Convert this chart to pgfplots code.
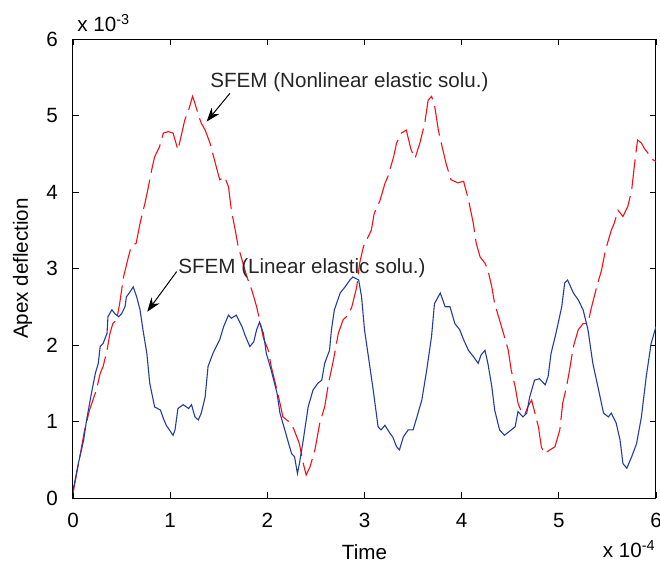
\documentclass[border=0pt]{standalone}
\usepackage{pgfplots}
\pgfplotsset{compat=1.18}
\usepackage{fontspec}
\setmainfont{Liberation Sans}
\usetikzlibrary{arrows.meta}
\definecolor{myblue}{RGB}{35,60,160}
\definecolor{myred}{RGB}{245,15,25}
\begin{document}
\fontsize{10.3}{12}\selectfont
\begin{tikzpicture}
\path[use as bounding box] (-36.5pt,-33pt) rectangle (293.5pt,249pt);
\begin{axis}[
  at={(0,0)}, anchor=south west,
  scale only axis, width=291.5pt, height=229.5pt,
  xmin=0, xmax=6, ymin=0, ymax=6,
  xtick={0,1,2,3,4,5,6}, ytick={0,1,2,3,4,5,6},
  tick align=inside, major tick length=3pt,
  tick style={black, line width=0.4pt},
  axis line style={black, line width=0.5pt},
  /pgf/number format/assume math mode=true,
  ticklabel style={font=\fontsize{10.3}{12}\selectfont},
  xticklabel style={yshift=-4pt},
  yticklabel style={xshift=-4pt},
  label style={font=\fontsize{10.3}{12}\selectfont},
  xlabel={Time}, ylabel={Apex deflection},
  xlabel style={yshift=-1.5pt},
  ylabel style={yshift=0pt},
  clip=true,
]
\addplot[myred, line width=0.55pt, dash pattern=on 15pt off 3.5pt] coordinates {
(0,0.06)(0.07,0.54)(0.12,0.89)(0.17,1.15)(0.24,1.41)(0.28,1.63)(0.31,1.72)(0.35,1.93)(0.38,2.15)(0.41,2.28)(0.45,2.33)(0.48,2.54)(0.52,2.89)(0.57,3.15)(0.60,3.29)(0.65,3.33)(0.69,3.59)(0.74,3.85)(0.77,4.03)(0.81,4.29)(0.84,4.46)(0.89,4.59)(0.93,4.77)(0.98,4.79)(1.03,4.77)(1.08,4.55)(1.12,4.77)(1.15,4.94)(1.19,5.07)(1.23,5.25)(1.25,5.18)(1.29,5.01)(1.32,4.90)(1.36,4.81)(1.41,4.64)(1.46,4.40)(1.51,4.16)(1.56,4.20)(1.60,4.07)(1.63,3.76)(1.67,3.50)(1.70,3.29)(1.74,3.11)(1.79,2.89)(1.84,2.72)(1.89,2.50)(1.92,2.33)(1.96,2.09)(2.01,1.93)(2.04,1.72)(2.10,1.41)(2.13,1.24)(2.16,1.06)(2.22,1.00)(2.27,0.91)(2.33,0.71)(2.37,0.45)(2.40,0.30)(2.44,0.41)(2.49,0.63)(2.54,0.98)(2.59,1.19)(2.63,1.50)(2.68,1.80)(2.73,2.15)(2.78,2.33)(2.83,2.39)(2.87,2.50)(2.92,2.76)(2.95,3.07)(2.99,3.29)(3.04,3.42)(3.07,3.50)(3.10,3.72)(3.16,3.89)(3.21,4.11)(3.24,4.20)(3.30,4.46)(3.33,4.64)(3.38,4.77)(3.43,4.81)(3.48,4.55)(3.52,4.44)(3.57,4.64)(3.62,4.90)(3.655,5.20)(3.69,5.25)(3.72,5.14)(3.76,4.81)(3.79,4.64)(3.84,4.37)(3.89,4.16)(3.96,4.12)(4.02,4.14)(4.07,3.90)(4.12,3.59)(4.15,3.33)(4.19,3.15)(4.24,3.07)(4.27,2.98)(4.31,2.76)(4.34,2.54)(4.38,2.37)(4.41,2.24)(4.44,2.11)(4.48,1.93)(4.51,1.67)(4.55,1.46)(4.58,1.24)(4.62,1.11)(4.65,1.09)(4.68,1.19)(4.72,1.28)(4.75,1.13)(4.79,0.93)(4.82,0.67)(4.85,0.58)(4.91,0.63)(4.96,0.67)(5.01,0.89)(5.04,1.24)(5.08,1.46)(5.11,1.67)(5.15,1.98)(5.20,2.20)(5.25,2.28)(5.30,2.28)(5.33,2.46)(5.39,2.76)(5.44,2.98)(5.48,3.24)(5.54,3.50)(5.57,3.59)(5.61,3.76)(5.66,3.68)(5.71,3.81)(5.75,4.03)(5.78,4.37)(5.81,4.68)(5.85,4.64)(5.88,4.57)(5.97,4.42)(6.00,4.40)
};
\addplot[myblue, line width=0.55pt] coordinates {
(0,0.10)(0.055,0.45)(0.11,0.76)(0.14,1.02)(0.19,1.37)(0.23,1.63)(0.26,1.76)(0.28,1.98)(0.31,2.02)(0.35,2.15)(0.36,2.37)(0.40,2.46)(0.43,2.41)(0.47,2.37)(0.50,2.41)(0.535,2.50)(0.55,2.63)(0.59,2.70)(0.62,2.76)(0.655,2.63)(0.69,2.46)(0.72,2.20)(0.76,1.89)(0.79,1.50)(0.84,1.19)(0.90,1.15)(0.93,1.04)(0.96,0.95)(1.03,0.82)(1.05,0.89)(1.08,1.17)(1.135,1.22)(1.19,1.17)(1.22,1.22)(1.255,1.06)(1.29,1.02)(1.32,1.11)(1.36,1.32)(1.39,1.72)(1.44,1.89)(1.51,2.07)(1.55,2.24)(1.60,2.39)(1.63,2.35)(1.68,2.39)(1.74,2.24)(1.77,2.13)(1.82,1.98)(1.86,2.04)(1.89,2.20)(1.92,2.30)(1.96,2.15)(1.99,1.89)(2.04,1.67)(2.10,1.37)(2.13,1.11)(2.18,0.89)(2.22,0.71)(2.25,0.58)(2.28,0.54)(2.31,0.32)(2.33,0.45)(2.37,0.76)(2.42,1.19)(2.47,1.41)(2.52,1.50)(2.56,1.54)(2.59,1.76)(2.64,1.93)(2.66,2.20)(2.69,2.46)(2.75,2.68)(2.80,2.76)(2.85,2.85)(2.88,2.89)(2.94,2.85)(2.97,2.63)(3.00,2.20)(3.04,1.85)(3.09,1.41)(3.14,0.93)(3.17,0.89)(3.21,0.95)(3.26,0.85)(3.29,0.80)(3.33,0.67)(3.36,0.63)(3.40,0.80)(3.45,0.89)(3.50,0.89)(3.54,1.06)(3.59,1.28)(3.64,1.67)(3.69,2.11)(3.72,2.54)(3.78,2.68)(3.83,2.50)(3.88,2.50)(3.93,2.28)(3.98,2.20)(4.02,2.07)(4.07,1.93)(4.12,1.85)(4.17,1.76)(4.20,1.87)(4.24,1.93)(4.27,1.76)(4.31,1.46)(4.34,1.15)(4.39,0.89)(4.44,0.82)(4.49,0.87)(4.55,0.93)(4.58,1.13)(4.63,1.06)(4.67,1.11)(4.70,1.32)(4.75,1.54)(4.80,1.56)(4.86,1.48)(4.89,1.59)(4.92,1.89)(4.97,2.15)(5.03,2.50)(5.06,2.81)(5.09,2.85)(5.15,2.68)(5.20,2.59)(5.25,2.46)(5.30,2.20)(5.35,1.76)(5.41,1.41)(5.46,1.11)(5.51,1.06)(5.54,1.11)(5.59,0.98)(5.63,0.76)(5.66,0.45)(5.70,0.39)(5.75,0.54)(5.80,0.71)(5.85,1.06)(5.90,1.59)(5.95,2.02)(6.00,2.24)
};
\draw[-{Stealth[length=7pt,width=5pt]}, line width=0.5pt] (axis cs:1.615,5.29) -- (axis cs:1.375,4.92);
\draw[-{Stealth[length=7pt,width=5pt]}, line width=0.5pt] (axis cs:1.067,2.96) -- (axis cs:0.764,2.435);
\node[anchor=west, inner sep=0pt, text=black!85] at (axis cs:1.41,5.44) {SFEM (Nonlinear elastic solu.)};
\node[anchor=west, inner sep=0pt, text=black!85] at (axis cs:1.08,3.0) {SFEM (Linear elastic solu.)};
\end{axis}
\node[anchor=south west, inner sep=0pt] at (2pt,233pt) {x 10\textsuperscript{-3}};
\node[anchor=north east, inner sep=0pt] at (291.5pt,-21pt) {x 10\textsuperscript{-4}};
\end{tikzpicture}
\end{document}
